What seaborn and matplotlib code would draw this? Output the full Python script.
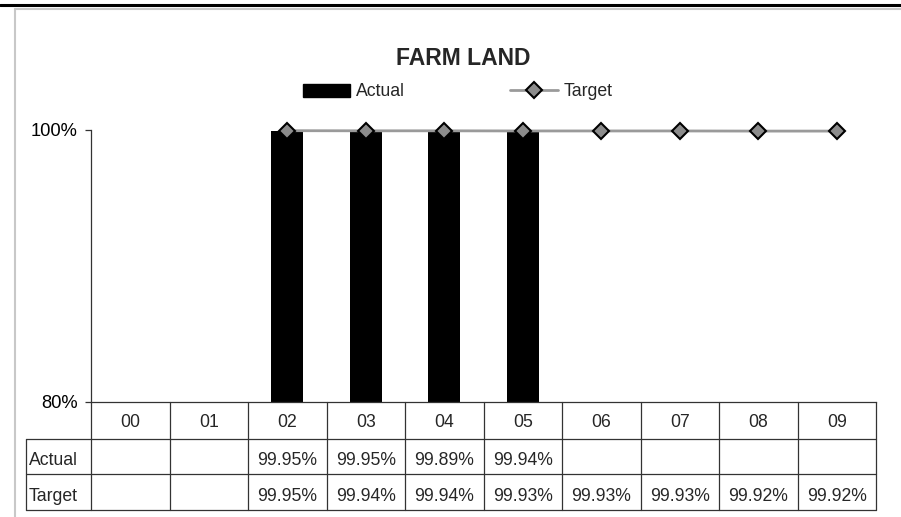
import numpy as np
import pandas as pd
import matplotlib
matplotlib.use("Agg")
import matplotlib.pyplot as plt
import seaborn as sns
from matplotlib import transforms
from matplotlib.lines import Line2D
from matplotlib.patches import Patch

# ---------------- data ----------------
categories = ["00", "01", "02", "03", "04", "05", "06", "07", "08", "09"]
actual = [np.nan, np.nan, 99.95, 99.95, 99.89, 99.94, np.nan, np.nan, np.nan, np.nan]
target = [np.nan, np.nan, 99.95, 99.94, 99.94, 99.93, 99.93, 99.93, 99.92, 99.92]
y_ticks = [80, 100]
y_tick_labels = ["80%", "100%"]
title = "FARM LAND"
row_labels = ["Actual", "Target"]

# ---------------- style ----------------
sns.set_theme(style="white")
plt.rcParams['font.family'] = ['Liberation Sans', 'DejaVu Sans']
FS = 12.7
LINE_C = "#333333"

W, H = 901, 517
fig = plt.figure(figsize=(W / 100, H / 100), dpi=100)
fig.patch.set_facecolor("white")

def fy(py):
    return 1 - py / H

def fx(px):
    return px / W

ax = fig.add_axes([fx(91), fy(402), (876 - 91) / W, (402 - 130) / H])
ax.set_facecolor("white")

df = pd.DataFrame({"cat": categories, "actual": actual, "target": target})
bars = df.dropna(subset=["actual"])

sns.barplot(data=bars, x="cat", y="actual", order=categories, color="black",
            width=0.41, saturation=1, edgecolor="black", linewidth=0, ax=ax)

pos = np.arange(len(categories))
ax.plot(pos, df["target"], color="#9a9a9a", linewidth=2, marker="D",
        markersize=8.5, markerfacecolor="#8c8c8c", markeredgecolor="black",
        markeredgewidth=1.5, clip_on=False, zorder=5)

ax.set_xlim(-0.5, len(categories) - 0.5)
ax.set_ylim(80, 100)
ax.set_yticks(y_ticks)
ax.set_yticklabels(y_tick_labels, fontsize=13.2)
ax.set_xticks([])
ax.set_xlabel("")
ax.set_ylabel("")
for s in ["top", "right"]:
    ax.spines[s].set_visible(False)
for s in ["left", "bottom"]:
    ax.spines[s].set_visible(True)
    ax.spines[s].set_color(LINE_C)
    ax.spines[s].set_linewidth(0.9)
ax.tick_params(axis="y", direction="out", length=4.5, width=0.9, color=LINE_C,
               pad=5, left=True, labelcolor="black")

# ---------------- data table ----------------
tr = transforms.blended_transform_factory(ax.transData, fig.transFigure)
n = len(categories)
for i in range(n + 1):
    x = i - 0.5
    fig.add_artist(Line2D([x, x], [fy(402), fy(510)], transform=tr,
                          color=LINE_C, lw=0.9))
x_right = ax.get_position().x1
for py in [439, 474, 510]:
    fig.add_artist(Line2D([fx(26), x_right], [fy(py), fy(py)],
                          transform=fig.transFigure, color=LINE_C, lw=0.9))
fig.add_artist(Line2D([fx(26), fx(26)], [fy(439), fy(510)],
                      transform=fig.transFigure, color=LINE_C, lw=0.9))

for i, c in enumerate(categories):
    fig.text(i, fy(427), c, transform=tr, ha="center", va="baseline", fontsize=FS)
    if not np.isnan(actual[i]):
        fig.text(i, fy(465), f"{actual[i]:.2f}%", transform=tr, ha="center",
                 va="baseline", fontsize=FS)
    if not np.isnan(target[i]):
        fig.text(i, fy(501), f"{target[i]:.2f}%", transform=tr, ha="center",
                 va="baseline", fontsize=FS)
fig.text(fx(29), fy(465), row_labels[0], ha="left", va="baseline", fontsize=FS)
fig.text(fx(29), fy(501), row_labels[1], ha="left", va="baseline", fontsize=FS)

# ---------------- title & legend ----------------
fig.text(fx(463), fy(65), title, ha="center", va="baseline", fontsize=16.5,
         fontweight="bold")

handles = [Patch(facecolor="black", edgecolor="black", label="Actual"),
           Line2D([], [], color="#9a9a9a", lw=2, marker="D", markersize=8.5,
                  markerfacecolor="#8c8c8c", markeredgecolor="black",
                  markeredgewidth=1.5, label="Target")]
fig.legend(handles=handles, loc="center", bbox_to_anchor=(fx(457.5), fy(92)),
           ncol=2, frameon=False, fontsize=FS, handlelength=2.7,
           handletextpad=0.3, columnspacing=6.0, borderpad=0, borderaxespad=0)

# ---------------- frame ----------------
fig.add_artist(Line2D([0, 1], [fy(5), fy(5)], transform=fig.transFigure,
                      color="black", lw=2.2))
fig.add_artist(Line2D([fx(15), fx(15)], [fy(9), 0], transform=fig.transFigure,
                      color="#c8c8c8", lw=1.5))
fig.add_artist(Line2D([fx(15), 1], [fy(9), fy(9)], transform=fig.transFigure,
                      color="#c8c8c8", lw=1.5))

fig.savefig("out.png", dpi=100, facecolor="white")
